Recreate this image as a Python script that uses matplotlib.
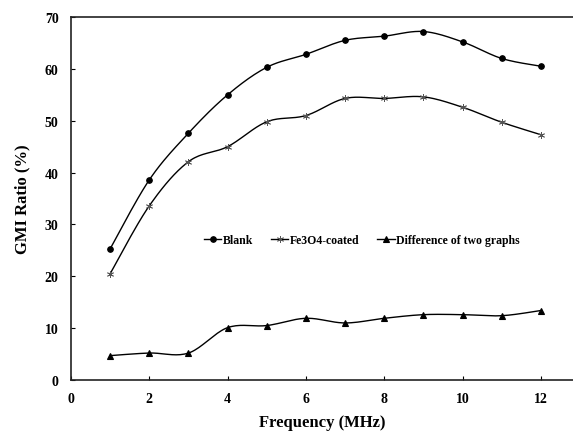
"""GMI ratio versus frequency, blank vs Fe3O4-coated ribbon."""

import matplotlib

matplotlib.use("Agg")
import matplotlib.pyplot as plt
import numpy as np
from matplotlib.lines import Line2D

freq_mhz = [1, 2, 3, 4, 5, 6, 7, 8, 9, 10, 11, 12]
blank = [25.3, 38.6, 47.6, 55.0, 60.3, 62.8, 65.5, 66.3, 67.2, 65.2, 62.0, 60.5]
coated = [20.5, 33.6, 42.1, 45.0, 49.8, 51.0, 54.3, 54.3, 54.6, 52.6, 49.7, 47.3]
difference = [4.7, 5.2, 5.2, 10.1, 10.5, 11.9, 11.0, 11.9, 12.6, 12.6, 12.4, 13.4]

x_ticks = [0, 2, 4, 6, 8, 10, 12]
y_ticks = [0, 10, 20, 30, 40, 50, 60, 70]

plt.rcParams["font.family"] = ["Liberation Serif", "DejaVu Serif"]
plt.rcParams["font.weight"] = "bold"


def smooth(x, y, steps=20):
    # Excel-like smoothed line: cubic Bezier with Catmull-Rom control points
    x = np.asarray(x, float)
    y = np.asarray(y, float)
    pts = np.column_stack([x, y])
    ext = np.vstack([pts[0], pts, pts[-1]])
    t = np.linspace(0, 1, steps)[:, None]
    out = []
    for i in range(len(pts) - 1):
        p0, p1, p2, p3 = ext[i], ext[i + 1], ext[i + 2], ext[i + 3]
        c1 = p1 + (p2 - p0) / 6
        c2 = p2 - (p3 - p1) / 6
        seg = ((1 - t) ** 3) * p1 + 3 * ((1 - t) ** 2) * t * c1 + 3 * (1 - t) * t**2 * c2 + t**3 * p2
        out.append(seg if i == 0 else seg[1:])
    seg = np.vstack(out)
    return seg[:, 0], seg[:, 1]


fig = plt.figure(figsize=(5.73, 4.35), dpi=100)
ax = fig.add_axes([71 / 573, 54 / 435, 502 / 573, 363 / 435])

series = [
    ("Blank", blank, "o", 4, "black", 0.8),
    ("Fe3O4-coated", coated, (6, 2, 0), 5, "#555555", 0.6),
    ("Difference of two graphs", difference, "^", 5, "black", 0.8),
]
handles = []
for label, values, marker, size, mcolor, mwidth in series:
    sx, sy = smooth(freq_mhz, values)
    ax.plot(sx, sy, color="black", lw=1.0)
    ax.plot(freq_mhz, values, linestyle="none", marker=marker, ms=size,
            color=mcolor, mec=mcolor, mew=mwidth)
    handles.append(Line2D([], [], color="black", lw=1.0, marker=marker,
                          ms=size, mfc=mcolor, mec=mcolor, mew=mwidth,
                          label=label))

ax.set_xlim(0, 12.82)
ax.set_ylim(0, 70)
ax.set_xticks(x_ticks)
ax.set_yticks(y_ticks)
ax.tick_params(direction="in", length=3, width=0.8, labelsize=10, pad=9)
ax.spines["right"].set_visible(False)
for side in ("left", "bottom", "top"):
    ax.spines[side].set_linewidth(1.2)
    ax.spines[side].set_color("#222222")

ax.set_xlabel("Frequency (MHz)", fontsize=12, fontweight="bold", labelpad=6)
ax.set_ylabel("GMI Ratio (%)", fontsize=12, fontweight="bold", labelpad=10)

ax.legend(handles=handles, loc="center left", bbox_to_anchor=(0.255, 0.385),
          ncol=3, frameon=False, fontsize=8.5, handlelength=1.5,
          handletextpad=0.1, columnspacing=1.5, borderaxespad=0)

fig.savefig("out.png", dpi=100)
